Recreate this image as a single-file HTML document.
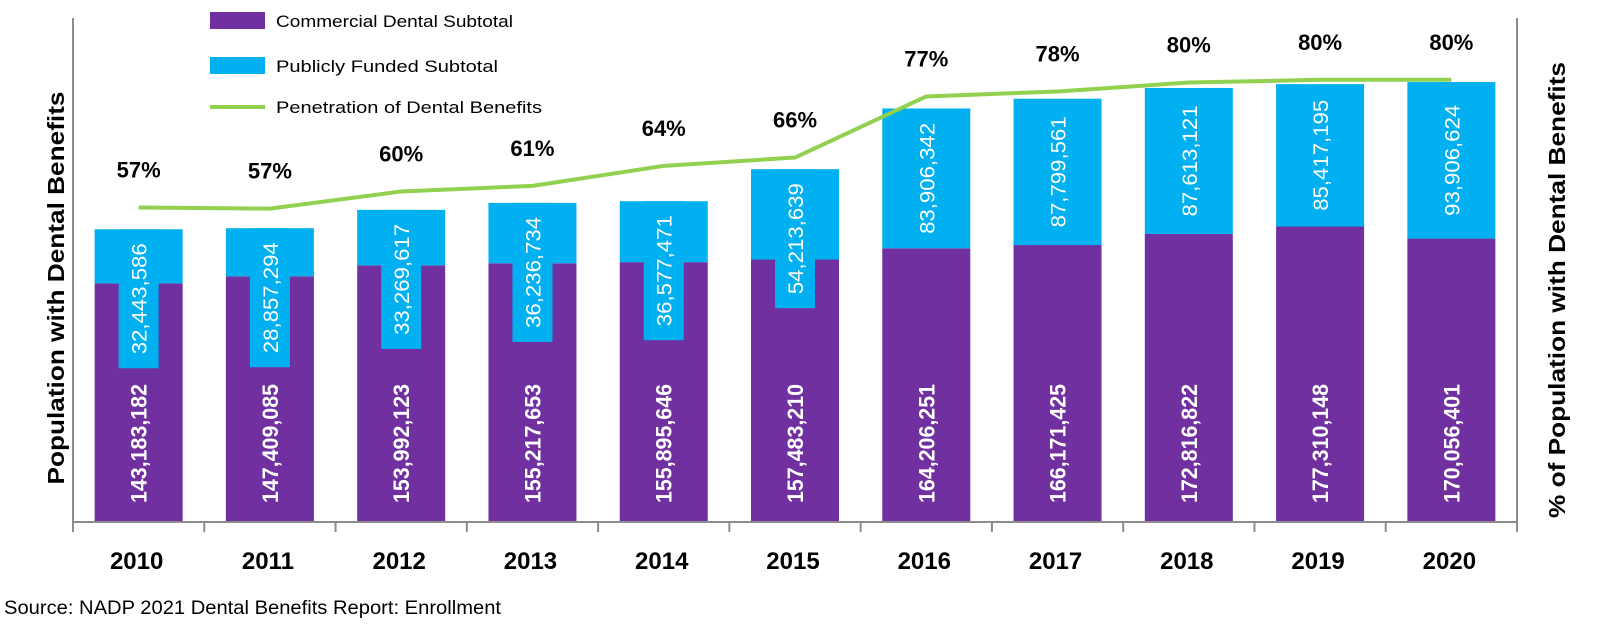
<!DOCTYPE html>
<html><head><meta charset="utf-8"><style>
html,body{margin:0;padding:0;background:#fff;}
svg{display:block;font-family:"Liberation Sans",Arial,sans-serif;}
</style></head><body>
<svg id="chart" width="1600" height="632" viewBox="0 0 1600 632"></svg>
<script>
const years = ["2010","2011","2012","2013","2014","2015","2016","2017","2018","2019","2020"];
const commercial = [143183182,147409085,153992123,155217653,155895646,157483210,164206251,166171425,172816822,177310148,170056401];
const publicFunded = [32443586,28857294,33269617,36236734,36577471,54213639,83906342,87799561,87613121,85417195,93906624];
const penetration = [56.6,56.4,59.5,60.5,64.1,65.6,76.6,77.5,79.1,79.6,79.6];
const penLabels = ["57%","57%","60%","61%","64%","66%","77%","78%","80%","80%","80%"];

const NS="http://www.w3.org/2000/svg";
const svg=document.getElementById('chart');
const X0=73,X1=1517,Y0=522,YT=22;
const leftMax=300e6,rightMax=90;
const bw=(X1-X0)/years.length;
const xc=i=>X0+bw*(i+0.5);
const yL=v=>Y0-(v/leftMax)*(Y0-YT);
const yR=v=>Y0-(v/rightMax)*(Y0-YT);
function el(t,a,txt){const e=document.createElementNS(NS,t);for(const k in a)e.setAttribute(k,a[k]);if(txt!==undefined)e.textContent=txt;svg.appendChild(e);return e;}
const PUR="#7030A0",BLU="#00B0F0",GRN="#92D050";

years.forEach((y,i)=>{
  const cx=xc(i),bwid=88;
  const cTop=yL(commercial[i]),tTop=yL(commercial[i]+publicFunded[i]);
  const c=el('rect',{x:cx-bwid/2,y:cTop,width:bwid,height:Y0-cTop,fill:PUR});
  
  
  const p=el('rect',{x:cx-bwid/2,y:tTop,width:bwid,height:cTop-tTop,fill:BLU});
  
  
});
years.forEach((y,i)=>{
  const cx=xc(i);
  const cTop=yL(commercial[i]),tTop=yL(commercial[i]+publicFunded[i]);
  const t=el('text',{x:0,y:0,transform:`translate(${cx+8},503) rotate(-90)`,fill:'#fff','font-size':22,'font-weight':'bold',textLength:119,lengthAdjust:'spacingAndGlyphs'},commercial[i].toLocaleString('en-US'));
  
  
  const bh=139;
  const boxTop=Math.max(tTop,(tTop+cTop)/2-bh/2);
  const b=el('rect',{x:cx-20,y:boxTop,width:40,height:bh,fill:BLU});
  
  
  const t2=el('text',{x:0,y:0,transform:`translate(${cx+8},${boxTop+bh/2}) rotate(-90)`,fill:'#fff','font-size':21,'text-anchor':'middle',textLength:111,lengthAdjust:'spacingAndGlyphs'},publicFunded[i].toLocaleString('en-US'));
  
  
});
const pts=penetration.map((v,i)=>xc(i)+','+yR(v)).join(' ');
const ln=el('polyline',{points:pts,fill:'none',stroke:GRN,'stroke-width':4,'stroke-linejoin':'round'});


penetration.forEach((v,i)=>{
  const t=el('text',{x:xc(i),y:yR(v)-30,'font-size':22,'font-weight':'bold','text-anchor':'middle',fill:'#000'},penLabels[i]);
  
  
});
const ax=el('path',{d:`M${X0},${YT-4}V${Y0}H${X1}V${YT-4}`,fill:'none',stroke:'#8c8c8c','stroke-width':2});


for(let i=0;i<=years.length;i++){
  const tk=el('line',{x1:X0+bw*i,x2:X0+bw*i,y1:Y0,y2:Y0+10,stroke:'#8c8c8c','stroke-width':2});
  
  
}
years.forEach((y,i)=>{
  const t=el('text',{x:xc(i)-2,y:569,'font-size':24,'font-weight':'bold','text-anchor':'middle',fill:'#000'},y);
  
  
});
</script>
<script>
(function(){
const NS="http://www.w3.org/2000/svg";const svg=document.getElementById('chart');
function el(t,a,txt){const e=document.createElementNS(NS,t);for(const k in a)e.setAttribute(k,a[k]);if(txt!==undefined)e.textContent=txt;svg.appendChild(e);return e;}
let e;
e=el('text',{x:0,y:0,transform:'translate(64,288) rotate(-90)','font-size':23,'font-weight':'bold','text-anchor':'middle',textLength:393,lengthAdjust:'spacingAndGlyphs'},'Population with Dental Benefits');


e=el('text',{x:0,y:0,transform:'translate(1565,290) rotate(-90)','font-size':23,'font-weight':'bold','text-anchor':'middle',textLength:456,lengthAdjust:'spacingAndGlyphs'},'% of Population with Dental Benefits');


e=el('rect',{x:210,y:12,width:55,height:17,fill:'#7030A0'});


e=el('text',{x:276,y:27,'font-size':17,textLength:237,lengthAdjust:'spacingAndGlyphs'},'Commercial Dental Subtotal');


e=el('rect',{x:210,y:57,width:55,height:17,fill:'#00B0F0'});


e=el('text',{x:276,y:72,'font-size':17,textLength:222,lengthAdjust:'spacingAndGlyphs'},'Publicly Funded Subtotal');


e=el('line',{x1:210,x2:265,y1:107,y2:107,stroke:'#92D050','stroke-width':4});


e=el('text',{x:276,y:113,'font-size':17,textLength:266,lengthAdjust:'spacingAndGlyphs'},'Penetration of Dental Benefits');


e=el('text',{x:4,y:614,'font-size':19,textLength:497,lengthAdjust:'spacingAndGlyphs'},'Source: NADP 2021 Dental Benefits Report: Enrollment');


})();
</script>
</body></html>
